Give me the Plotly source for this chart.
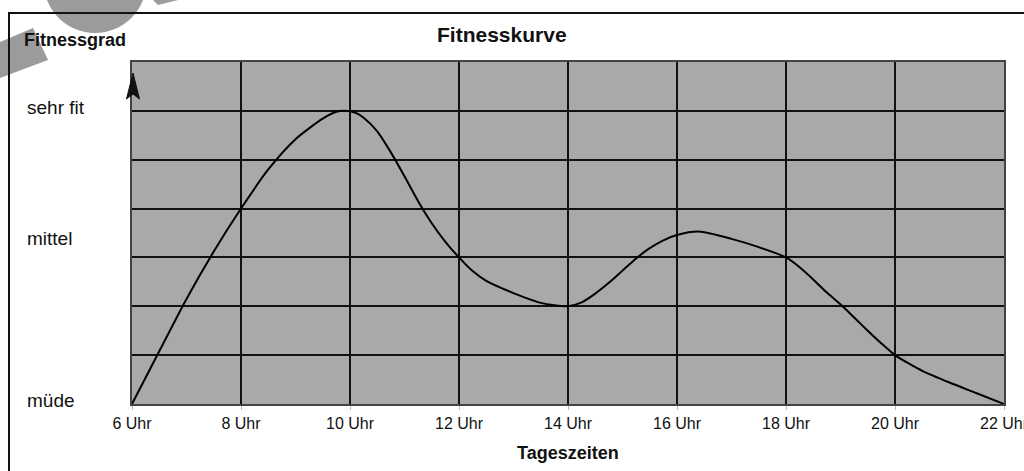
import plotly.graph_objects as go

# Data
hours = [6, 6.5, 7, 7.5, 8, 8.5, 9, 9.5, 9.75, 9.9, 10.1, 10.25, 10.5, 10.75, 11, 11.25, 11.5, 11.75,
         12, 12.25, 12.5, 13, 13.5, 13.75, 14, 14.25, 14.5, 14.75, 15, 15.25, 15.5, 15.75, 16, 16.4,
         17, 17.5, 18, 18.25, 18.5, 18.75, 19, 19.25, 19.5, 19.75, 20, 20.25, 20.5, 21, 21.5, 22]
fitness = [0, 1.08, 2.15, 3.12, 4.0, 4.8, 5.42, 5.84, 5.98, 6.0, 5.96, 5.86, 5.58, 5.15, 4.66, 4.15, 3.7, 3.32,
           3.0, 2.72, 2.52, 2.27, 2.07, 2.02, 2.0, 2.08, 2.26, 2.48, 2.73, 2.98, 3.19, 3.35, 3.46, 3.53,
           3.38, 3.21, 3.0, 2.8, 2.55, 2.28, 2.04, 1.77, 1.5, 1.24, 1.0, 0.83, 0.68, 0.44, 0.22, 0.0]

x_tickvals = [6, 8, 10, 12, 14, 16, 18, 20, 22]
x_ticktext = ["6 Uhr", "8 Uhr", "10 Uhr", "12 Uhr", "14 Uhr", "16 Uhr", "18 Uhr", "20 Uhr", "22 Uhr"]
y_labels = ["müde", "mittel", "sehr fit"]
y_label_vals = [0.08, 3.39, 6.06]

W, H = 1024, 471
L, R, T, B = 132, 20, 62, 67
pw, ph = W - L - R, H - T - B

def px(xpix):
    return (xpix - L) / pw

def py(ypix):
    return (H - B - ypix) / ph

FONT = "Liberation Sans, Arial, sans-serif"

fig = go.Figure()
fig.add_trace(go.Scatter(x=hours, y=fitness, mode="lines",
                         line=dict(color="black", width=2, shape="spline", smoothing=0.7),
                         hoverinfo="skip", showlegend=False))

shapes = []
# decorative grey marks at top-left (scan artifacts)
shapes.append(dict(type="circle", xref="paper", yref="paper",
                   x0=px(43.6), x1=px(146.4), y0=py(33), y1=py(-69.8),
                   fillcolor="#9b9b9b", line=dict(width=0), layer="above"))
shapes.append(dict(type="path", xref="paper", yref="paper",
                   path=f"M {px(0)},{py(42)} L {px(33)},{py(28)} L {px(48)},{py(60)} L {px(0)},{py(78)} Z",
                   fillcolor="#9b9b9b", line=dict(width=0), layer="above"))
shapes.append(dict(type="path", xref="paper", yref="paper",
                   path=f"M {px(153)},{py(0)} L {px(178)},{py(0)} L {px(158)},{py(5)} Z",
                   fillcolor="#9b9b9b", line=dict(width=0), layer="above"))
# outer frame
shapes.append(dict(type="rect", xref="paper", yref="paper",
                   x0=px(9), x1=px(1040), y0=py(490), y1=py(13),
                   line=dict(color="#111", width=2), fillcolor="rgba(0,0,0,0)", layer="above"))
# y-axis arrow head
shapes.append(dict(type="path", xref="paper", yref="paper",
                   path=(f"M {px(126.5)},{py(99)} L {px(133)},{py(73)} L {px(139.5)},{py(99)} "
                         f"L {px(133)},{py(94)} Z"),
                   fillcolor="#111", line=dict(color="#111", width=1), layer="above"))

annotations = []
for lab, v in zip(y_labels, y_label_vals):
    annotations.append(dict(text=lab, xref="paper", yref="y", x=px(25), y=v,
                            xanchor="left", yanchor="middle", showarrow=False,
                            font=dict(family=FONT, size=19, color="#111")))
annotations.append(dict(text="<b>Fitnessgrad</b>", xref="paper", yref="paper",
                        x=px(75), y=py(40), xanchor="center", yanchor="middle", showarrow=False,
                        font=dict(family=FONT, size=18, color="#111")))
annotations.append(dict(text="<b>Fitnesskurve</b>", xref="paper", yref="paper",
                        x=px(502), y=py(35), xanchor="center", yanchor="middle", showarrow=False,
                        font=dict(family=FONT, size=21, color="#111")))
annotations.append(dict(text="<b>Tageszeiten</b>", xref="paper", yref="paper",
                        x=px(568), y=py(453), xanchor="center", yanchor="middle", showarrow=False,
                        font=dict(family=FONT, size=18, color="#111")))

fig.update_layout(
    width=W, height=H,
    margin=dict(l=L, r=R, t=T, b=B, autoexpand=False),
    paper_bgcolor="white",
    plot_bgcolor="#a9a9a9",
    shapes=shapes,
    annotations=annotations,
    showlegend=False,
    xaxis=dict(range=[6, 22], tickvals=x_tickvals, ticktext=x_ticktext,
               showgrid=True, gridcolor="#111", gridwidth=1.6,
               zeroline=False, showline=True, linecolor="#444", linewidth=1.5, mirror=True,
               ticks="outside", ticklen=4, tickcolor="#bbbbbb", tickwidth=1,
               ticklabeloverflow="allow", automargin=False,
               tickfont=dict(family=FONT, size=16, color="#111"), fixedrange=True),
    yaxis=dict(range=[0, 7], dtick=1, showticklabels=False, automargin=False,
               showgrid=True, gridcolor="#111", gridwidth=1.6,
               zeroline=False, showline=True, linecolor="#444", linewidth=1.5, mirror=True,
               ticks="", fixedrange=True),
)

fig.write_html("out.html", config={"displayModeBar": False},
               post_script="document.body.style.margin='0';document.body.style.overflow='hidden';")
